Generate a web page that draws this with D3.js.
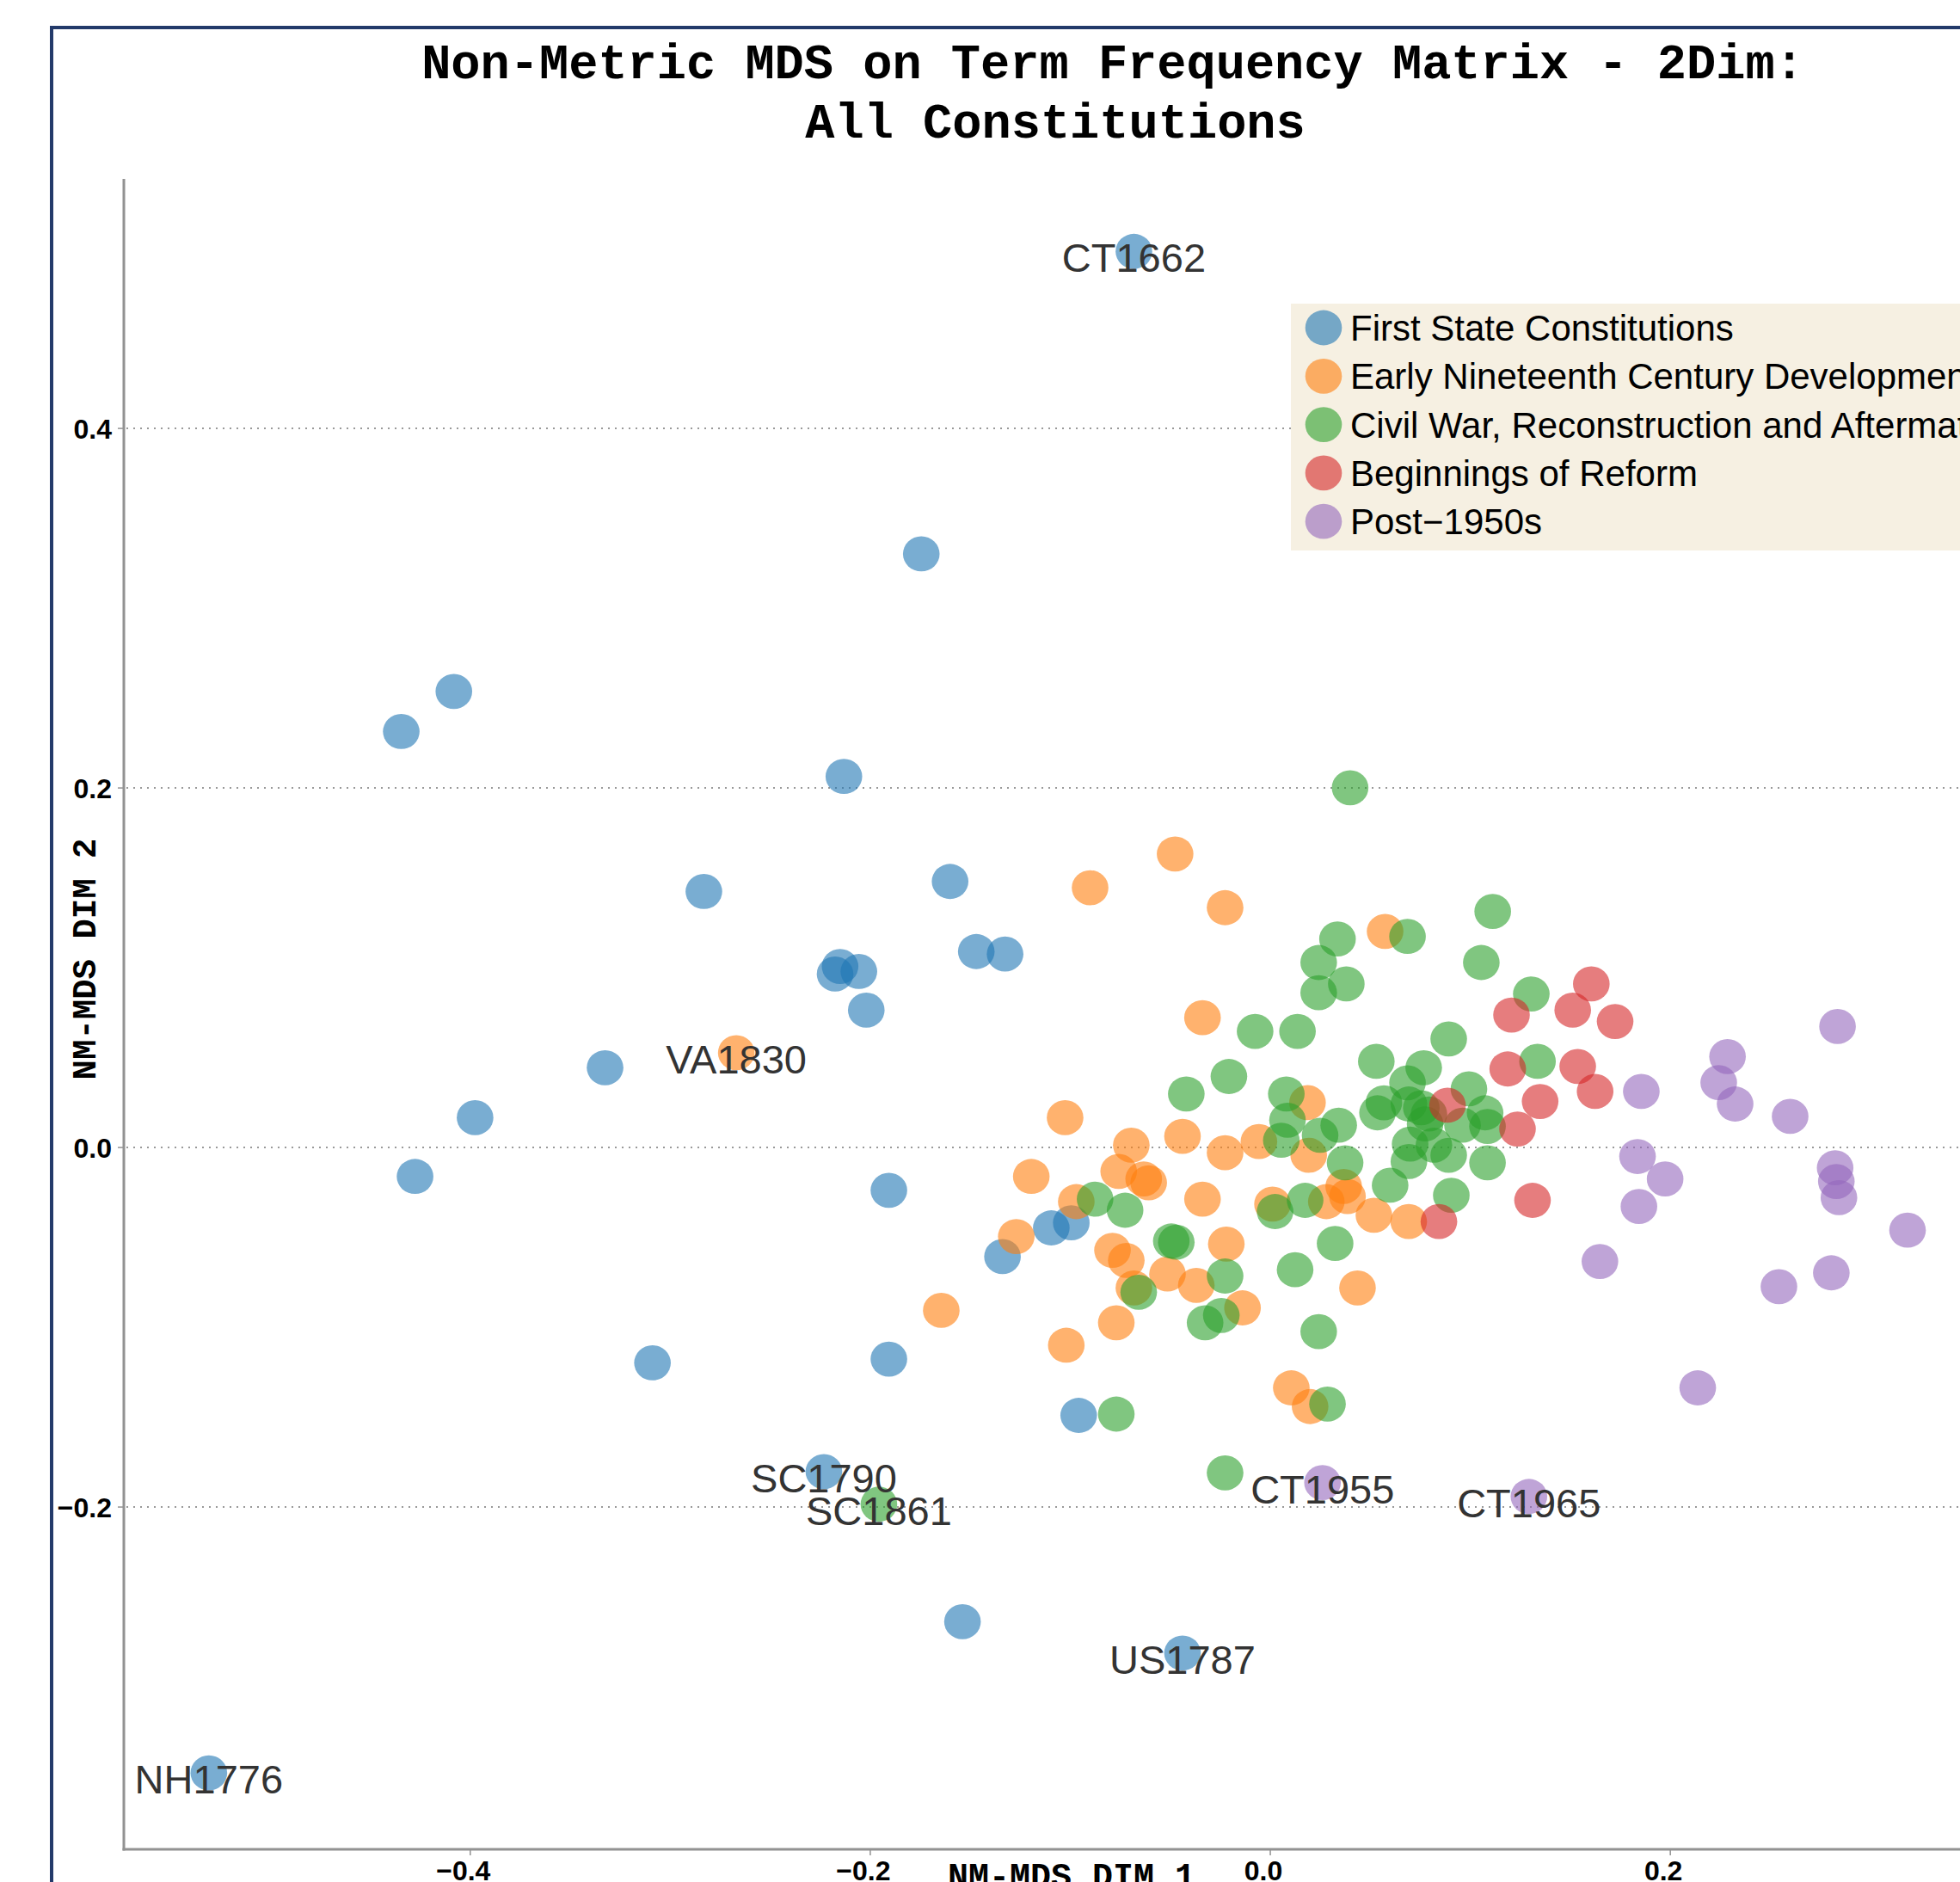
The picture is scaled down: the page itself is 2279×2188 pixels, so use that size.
<!DOCTYPE html>
<html>
<head>
<meta charset="utf-8">
<script src="https://cdn.jsdelivr.net/npm/d3@7"></script>
<style>
html, body {margin: 0; padding: 0; background: #fff; overflow: hidden}
</style>
</head>
<body>
<div id="chart"></div>
<script>
// MDS coordinates per era: [dim1, dim2, optional label]
var eras = ["First State Constitutions", "Early Nineteenth Century Development",
            "Civil War, Reconstruction and Aftermath", "Beginnings of Reform", "Post\u22121950s"]

var firstState = [
  [-0.0682, 0.4985, "CT1662"], [-0.1745, 0.3302], [-0.4082, 0.2537], [-0.4345, 0.2314],
  [-0.2132, 0.2064], [-0.2832, 0.1424], [-0.1601, 0.1480], [-0.1470, 0.1090],
  [-0.1326, 0.1076], [-0.2151, 0.1007], [-0.2176, 0.0965], [-0.2057, 0.0979],
  [-0.2020, 0.0764], [-0.3326, 0.0444], [-0.3976, 0.0166], [-0.4276, -0.0161],
  [-0.1907, -0.0238], [-0.1095, -0.0447], [-0.0995, -0.0419], [-0.1339, -0.0607],
  [-0.3089, -0.1198], [-0.1907, -0.1177], [-0.0958, -0.1490], [-0.2232, -0.1803, "SC1790"],
  [-0.1539, -0.2638], [-0.0439, -0.2812, "US1787"], [-0.5307, -0.3479, "NH1776"]
]

var earlyNineteenth = [
  [-0.2670, 0.0527, "VA1830"], [-0.0476, 0.1633], [-0.0901, 0.1445], [-0.0226, 0.1334],
  [0.0574, 0.1202], [-0.0339, 0.0722], [0.0186, 0.0250], [-0.1026, 0.0166],
  [-0.0695, 0.0013], [-0.0439, 0.0062], [-0.0226, -0.0029], [-0.0057, 0.0033],
  [-0.1195, -0.0161], [-0.0758, -0.0133], [-0.0633, -0.0175], [-0.0608, -0.0196],
  [-0.0339, -0.0287], [-0.0970, -0.0301], [0.0011, -0.0315], [0.0280, -0.0301],
  [0.0367, -0.0217], [0.0386, -0.0273], [0.0518, -0.0377], [0.0692, -0.0412],
  [-0.1270, -0.0495], [-0.0789, -0.0572], [-0.0720, -0.0628], [-0.0220, -0.0537],
  [-0.0514, -0.0704], [-0.0370, -0.0767], [-0.0682, -0.0781], [0.0436, -0.0781],
  [-0.0139, -0.0892], [-0.0770, -0.0975], [-0.1645, -0.0906], [-0.1020, -0.1100],
  [0.0105, -0.1337], [0.0199, -0.1441], [0.0192, -0.0043]
]

var civilWar = [
  [0.0399, 0.2001], [0.0336, 0.1160], [0.0686, 0.1174], [0.1112, 0.1313],
  [0.0242, 0.1029], [0.1055, 0.1029], [0.0380, 0.0910], [0.0242, 0.0861],
  [0.1305, 0.0854], [-0.0076, 0.0646], [0.0136, 0.0646], [0.0892, 0.0604],
  [0.0530, 0.0479], [0.0767, 0.0444], [-0.0207, 0.0395], [-0.0420, 0.0298],
  [0.1336, 0.0479], [0.0686, 0.0360], [0.0080, 0.0298], [0.0993, 0.0326],
  [0.0568, 0.0249], [0.0536, 0.0193], [0.0693, 0.0242], [0.0755, 0.0221],
  [0.0793, 0.0186], [0.0774, 0.0131], [0.0086, 0.0152], [0.0342, 0.0124],
  [0.1074, 0.0193], [0.1086, 0.0117], [0.0961, 0.0124], [0.0818, 0.0013],
  [0.0699, 0.0019], [0.0892, -0.0043], [0.0693, -0.0078], [0.1086, -0.0085],
  [0.0055, 0.0040], [0.0249, 0.0068], [0.0374, -0.0085], [0.0599, -0.0210],
  [0.0905, -0.0266], [-0.0876, -0.0287], [-0.0726, -0.0349], [0.0024, -0.0356],
  [0.0174, -0.0294], [-0.0495, -0.0520], [-0.0470, -0.0527], [-0.0226, -0.0715],
  [-0.0658, -0.0805], [0.0324, -0.0534], [0.0124, -0.0680], [-0.0326, -0.0975],
  [-0.0245, -0.0934], [0.0242, -0.1024], [0.0286, -0.1427], [-0.0770, -0.1483],
  [-0.0226, -0.1810], [-0.1957, -0.1984, "SC1861"]
]

var reform = [
  [0.1605, 0.0910], [0.1206, 0.0737], [0.1512, 0.0764], [0.1724, 0.0701],
  [0.1187, 0.0437], [0.1537, 0.0451], [0.1624, 0.0312], [0.1349, 0.0256],
  [0.0886, 0.0235], [0.1236, 0.0103], [0.1311, -0.0294], [0.0843, -0.0412]
]

var post1950 = [
  [0.2836, 0.0673], [0.2286, 0.0506], [0.2242, 0.0361], [0.2324, 0.0242],
  [0.2599, 0.0173], [0.1855, 0.0312], [0.1836, -0.0050], [0.1974, -0.0175],
  [0.1843, -0.0328], [0.2824, -0.0113], [0.2830, -0.0189], [0.2843, -0.0279],
  [0.3186, -0.0460], [0.1648, -0.0634], [0.2805, -0.0697], [0.2543, -0.0774],
  [0.2137, -0.1337], [0.0261, -0.1864, "CT1955"], [0.1293, -0.1941, "CT1965"]
]

var xTicks = [-0.4, -0.2, 0.0, 0.2]
var yTicks = [-0.2, 0.0, 0.2, 0.4]

var width = 2279, height = 2188
var plot = {left: 144, right: 2348, top: 208, bottom: 2150}
var mono = "'Liberation Mono', 'Courier New', monospace"
var sans = "'Liberation Sans', Arial, Helvetica, sans-serif"
var colors = d3.schemeCategory10.slice(0, 5)

var x = d3.scaleLinear().domain([-0.5732, 0.3745]).range([plot.left, plot.right])
var y = d3.scaleLinear().domain([-0.3904, 0.5388]).range([plot.bottom, plot.top])
var fmt = d3.format(".1f")

var svg = d3.select("#chart").append("svg")
    .attr("width", width)
    .attr("height", height)
    .style("display", "block")

// outer frame
svg.append("rect")
    .attr("x", 60).attr("y", 32)
    .attr("width", 2400).attr("height", 2400)
    .style("fill", "none")
    .style("stroke", "#233a6a")
    .style("stroke-width", 4)

// title
var title = svg.append("g")
    .style("font-family", mono)
    .style("font-weight", "bold")
    .style("font-size", "57px")
    .style("fill", "#000")
    .attr("text-anchor", "middle")
title.append("text").attr("x", 1294).attr("y", 91).text("Non-Metric MDS on Term Frequency Matrix - 2Dim:")
title.append("text").attr("x", 1227).attr("y", 160).text("All Constitutions")

// gridlines
svg.selectAll(".grid")
    .data(yTicks)
    .enter()
    .append("line")
    .attr("class", "grid")
    .attr("x1", plot.left + 3).attr("x2", width)
    .attr("y1", function(d) {return y(d)})
    .attr("y2", function(d) {return y(d)})
    .style("stroke", "#999")
    .style("stroke-width", 2)
    .style("stroke-dasharray", "2,6")

// axes
var axisColor = "#929292"
svg.append("line")
    .attr("x1", plot.left).attr("x2", plot.left)
    .attr("y1", plot.top).attr("y2", plot.bottom + 1.5)
    .style("stroke", axisColor).style("stroke-width", 3)
svg.append("line")
    .attr("x1", plot.left - 1.5).attr("x2", width)
    .attr("y1", plot.bottom).attr("y2", plot.bottom)
    .style("stroke", axisColor).style("stroke-width", 3)

svg.selectAll(".ytick")
    .data(yTicks)
    .enter()
    .append("line")
    .attr("class", "ytick")
    .attr("x1", plot.left - 7).attr("x2", plot.left)
    .attr("y1", function(d) {return y(d)})
    .attr("y2", function(d) {return y(d)})
    .style("stroke", axisColor).style("stroke-width", 1.5)

svg.selectAll(".xtick")
    .data(xTicks)
    .enter()
    .append("line")
    .attr("class", "xtick")
    .attr("x1", function(d) {return x(d)})
    .attr("x2", function(d) {return x(d)})
    .attr("y1", plot.bottom).attr("y2", plot.bottom + 7)
    .style("stroke", axisColor).style("stroke-width", 1.5)

var tickSize = 32
svg.selectAll(".ylabel")
    .data(yTicks)
    .enter()
    .append("text")
    .attr("class", "ylabel")
    .attr("x", plot.left - 14)
    .attr("y", function(d) {return y(d) + 11.5})
    .attr("text-anchor", "end")
    .style("font-family", sans)
    .style("font-size", tickSize + "px")
    .style("font-weight", "bold")
    .text(function(d) {return fmt(d)})

svg.selectAll(".xlabel")
    .data(xTicks)
    .enter()
    .append("text")
    .attr("class", "xlabel")
    .attr("x", function(d) {return x(d) - 8})
    .attr("y", plot.bottom + 36)
    .attr("text-anchor", "middle")
    .style("font-family", sans)
    .style("font-size", tickSize + "px")
    .style("font-weight", "bold")
    .text(function(d) {return fmt(d)})

// axis titles
svg.append("text")
    .attr("x", 1246).attr("y", 2194)
    .attr("text-anchor", "middle")
    .style("font-family", mono)
    .style("font-weight", "bold")
    .style("font-size", "40px")
    .text("NM-MDS DIM 1")

svg.append("text")
    .attr("transform", "translate(111,1115) rotate(-90)")
    .attr("text-anchor", "middle")
    .style("font-family", mono)
    .style("font-weight", "bold")
    .style("font-size", "39px")
    .text("NM-MDS DIM 2")

// points
var series = [firstState, earlyNineteenth, civilWar, reform, post1950]
series.forEach(function(points, i) {
    svg.append("g")
        .selectAll("ellipse")
        .data(points)
        .enter()
        .append("ellipse")
        .attr("cx", function(d) {return x(d[0])})
        .attr("cy", function(d) {return y(d[1])})
        .attr("rx", 21.3)
        .attr("ry", 20.4)
        .style("fill", colors[i])
        .style("fill-opacity", 0.6)
})

// point labels
var labelled = []
series.forEach(function(points) {
    points.forEach(function(d) { if (d[2]) labelled.push(d) })
})
svg.append("g")
    .selectAll("text")
    .data(labelled)
    .enter()
    .append("text")
    .attr("x", function(d) {return x(d[0])})
    .attr("y", function(d) {return y(d[1]) + 24})
    .attr("text-anchor", "middle")
    .style("font-family", sans)
    .style("font-size", "47px")
    .style("fill", "#333")
    .text(function(d) {return d[2]})

// legend
var legend = svg.append("g").attr("transform", "translate(1501,353)")
legend.append("rect")
    .attr("width", 900).attr("height", 287)
    .style("fill", "#f6f0e2")

var rows = legend.selectAll(".row")
    .data(eras)
    .enter()
    .append("g")
    .attr("class", "row")
    .attr("transform", function(d, i) {return "translate(0," + (28 + i * 56.3) + ")"})

rows.append("ellipse")
    .attr("cx", 38).attr("cy", 0)
    .attr("rx", 21.3).attr("ry", 20.4)
    .style("fill", function(d, i) {return colors[i]})
    .style("fill-opacity", 0.6)

rows.append("text")
    .attr("x", 69).attr("y", 15)
    .style("font-family", sans)
    .style("font-size", "42px")
    .style("fill", "#000")
    .text(function(d) {return d})
</script>
</body>
</html>
